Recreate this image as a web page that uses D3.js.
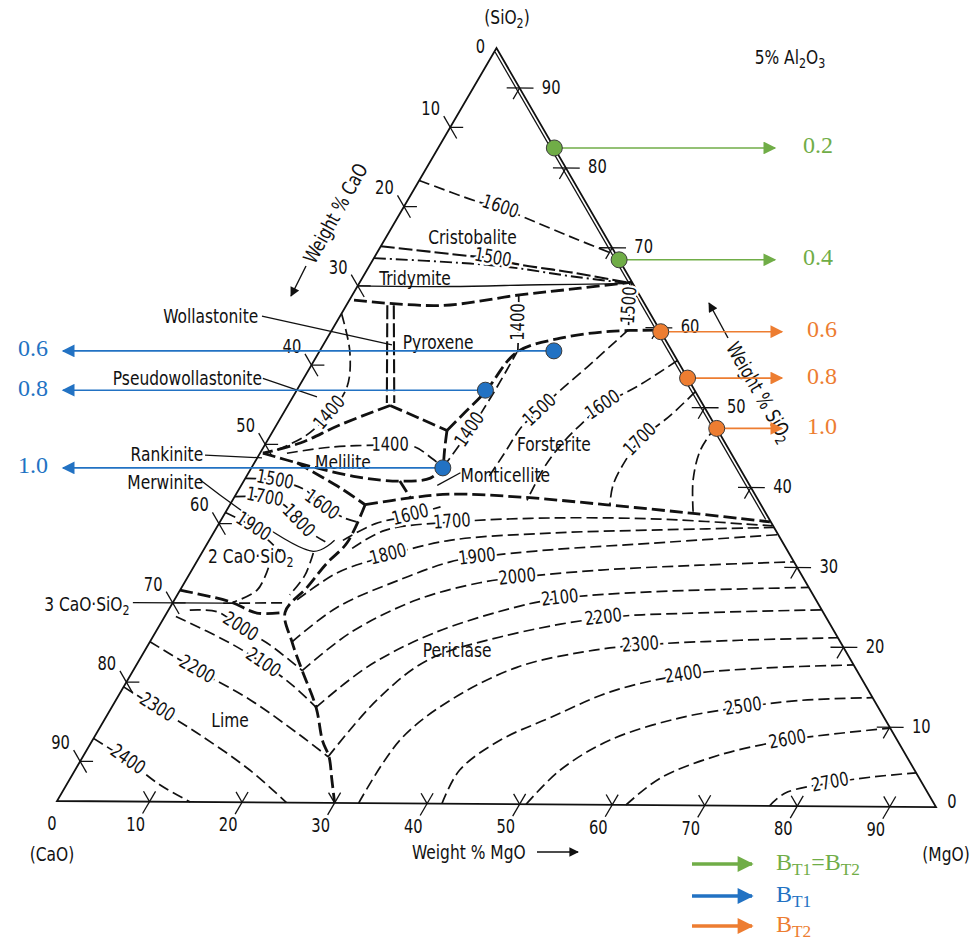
<!DOCTYPE html>
<html>
<head>
<meta charset="utf-8">
<script src="https://cdn.jsdelivr.net/npm/d3@7/dist/d3.min.js"></script>
<style>
  body { margin: 0; background: #fff; }
  svg { display: block; }
</style>
</head>
<body>
<svg id="diagrama" width="976" height="943"></svg>
<script>
// CaO - MgO - SiO2 at 5% Al2O3: every point is [MgO, SiO2] in wt%, CaO = 95 - MgO - SiO2
const total = 95;
const tickValues = [10, 20, 30, 40, 50, 60, 70, 80, 90];

// liquidus isotherms
const iso1600Cristobalite = [[0,78.3],[7.9,75.6],[10.4,75.0],[13.5,73.8],[19.7,71.4],[25.6,69.2]];
const iso1500Cristobalite = [[0,70],[10.6,68.8],[12.8,68.6],[15.6,67.9],[22.0,66.9],[29.1,65.6]];
const iso1500Edge = [[29.3,65.7],[30.5,62.8],[31.9,59.7]];
const iso1400Pyroxene = [[17.9,64.0],[19.6,60.6],[21.4,56.8]];
const iso1400Wollastonite = [[0,61.5],[3.3,56.7],[5.2,52.3],[5.0,49.0],[3.8,46.1],[1.6,44.3]];
const iso1400Melilite = [[2.9,43.9],[7.2,44.7],[13.5,45.0],[16.3,44.8],[18.8,43.4],[20.6,42.3]];
const iso1400Forsterite = [[20.6,42.3],[21.15,47.0],[21.35,52.0],[21.3,56.8]];
const iso1500Forsterite = [[31.9,59.7],[29.8,55.0],[28.0,51.2],[27.45,49.5],[26.55,47.65],[26.3,43.9],[26.1,41.0]];
const iso1600Forsterite = [[39.1,55.9],[36.6,52.8],[33.9,50.2],[32.7,47.7],[31.95,45.5],[31.5,42.6],[31.7,38.2]];
const iso1700Forsterite = [[43,52],[41.8,49.0],[40.1,45.9],[39.8,43.3],[40.0,40.2],[40.9,37.7]];
const iso1800Forsterite = [[47.4,47.6],[47.2,44.7],[48.3,40.9],[50.3,36.9]];
const iso1500Merwinite = [[0,40.7],[3.3,40.5],[7.2,39.3],[9.9,37.4],[13.2,35.8],[14.9,35.3]];
const iso1700Merwinite = [[0,38.4],[3.3,38.3],[6.0,37.3],[8.35,35.4],[10.7,33.8],[12.6,32.8]];
const iso1900Dicalcium = [[0,36.4],[3.9,34.6],[6.3,33.0],[8.4,31.5]];
const iso2000Lime = [[2.3,24.1],[5.4,23.9],[8.8,22.0],[13.1,19.8],[18.2,16.6]];
const iso2100Lime = [[1.2,23.3],[8.7,20.0],[13.5,17.5],[18.0,14.8],[22,12]];
const iso2200Lime = [[0,20.1],[6.8,16.6],[14.4,12.9],[22.0,8.5],[26.4,5.8]];
const iso2300Lime = [[0,14.4],[4.9,11.8],[11.3,8.4],[18.8,4.06],[24.8,0]];
const iso2400Lime = [[0,7.9],[5.0,5.2],[10.1,2.1],[14.4,0]];
const iso1600Periclase = [[14.4,33.0],[16.8,35.1],[20.1,36.2],[22.8,37.3]];
const iso1700Periclase = [[15.9,32.0],[18.3,34.3],[25.0,35.4],[35.3,36.0],[47.2,35.95],[59.7,35.2]];
const iso1800Periclase = [[13.2,25.5],[15.8,28.9],[18.9,30.6],[20.2,31.2],[25.9,33.1],[36.2,34.1],[47.9,34.6],[60,35]];
const iso1900Periclase = [[15.3,20.2],[18.0,24.6],[23.0,28.1],[27.3,30.4],[29.9,31.0],[37.3,32.0],[47.65,32.9],[60.9,34.1]];
const iso2000Periclase = [[18.2,16.6],[21.0,21.4],[26.1,25.6],[31.8,27.8],[35.5,28.5],[44.0,29.5],[54.4,30.2],[64.3,30.7]];
const iso2100Periclase = [[22,12],[24.96,17.1],[29.95,21.4],[37.3,24.8],[41.4,25.9],[50.7,26.8],[67.5,27.5]];
const iso2200Periclase = [[26.4,5.8],[28.1,13.0],[31.0,18.0],[37.4,21.0],[47.3,23.5],[57.4,24.2],[70.3,24.7]];
const iso2300Periclase = [[32.6,0],[33.1,8.0],[36.0,13.0],[41.1,17.2],[47.3,19.2],[53.0,20.1],[63.4,20.8],[73.8,21.2]];
const iso2400Periclase = [[41.6,0],[41.4,4.25],[43.9,8.05],[47.85,10.9],[52.7,14.2],[59.5,16.4],[67.35,17.3],[77.2,17.8]];
const iso2500Periclase = [[50.7,0],[52.2,4.3],[55.7,8.15],[61.85,11.0],[67.96,12.4],[73.7,13.3],[81.3,13.7]];
const iso2600Periclase = [[61.5,0],[63.5,3.4],[68.5,6.4],[74.8,8.3],[80.05,9.2],[85.1,9.9]];
const iso2700Periclase = [[77,0],[77.9,1.65],[82.1,2.94],[86.0,3.7],[90.7,4.3]];
const tricalciumLine = [[5.45,25.0],[11.9,25.1]];
const dicalciumCurve = [[8.1,29.5],[8.3,26.7],[6.4,25.1]];
const dicalciumInner = [[12.0,31.4],[12.5,28.6],[12.1,26.1]];

// phase boundaries
const tridymiteDashDot = [[0,68.5],[10.7,67.9],[15.8,67.4],[22.3,66.4],[29.5,65.5]];
const tridymiteSolid = [[0,65],[10,65],[19.6,65.3],[28.5,65.5]];
const tridymitePyroxene = [[0.5,63.2],[10.1,62.6],[18.0,64.0],[24.1,64.9],[29.3,65.7]];
const wollastonitePyroxeneA = [[4.4,62.6],[10.5,50.3]];
const wollastonitePyroxeneB = [[5.1,62.6],[11.3,50.3]];
const wollastoniteMelilite = [[11.0,50.0],[6.8,47.5],[3.7,45.2],[0.3,43.9]];
const pyroxeneMelilite = [[11.0,50.0],[15.0,48.4],[18.7,46.9]];
const meliliteMonticellite = [[18.7,46.9],[19.6,44.6],[20.6,42.3]];
const pyroxeneForsterite = [[18.7,46.9],[19.5,49.2],[20.4,51.8],[21.3,56.8],[25.1,58.6],[30.0,59.5],[35.3,59.7]];
const meliliteLower = [[0.3,43.9],[4.6,42.7],[11.9,41.0],[16.8,40.5],[19.9,40.9],[20.6,42.3]];
const merwiniteUpper = [[4.6,42.7],[10.8,39.6],[14.55,37.5]];
const monticelliteStep = [[16.8,40.5],[19.0,38.4]];
const limePericlase = [[14.55,37.5],[15.0,32.7],[14.1,30.1],[13.5,27.1],[12.7,23.9],[15.3,20.2],[18.2,16.6],[22,12],[24.8,7.8],[26.5,5.8],[28.2,3],[30,0]];
const forsteritePericlase = [[14.55,37.5],[19.0,38.4],[23.0,38.9],[30.8,38.6],[40.6,37.7],[50.4,36.7],[59.2,35.7]];
const limeDicalcium = [[0,26.6],[6.1,25.2],[9.7,23.8],[12.7,23.9]];

// leader lines of the phase names
const leaderWollastonite = [[-8.4,61.1],[7.4,57.6]];
const leaderPseudo = [[-4.4,53.3],[2.6,51.0]];
const leaderRankinite = [[-5.8,43.6],[0.5,43.3]];
const leaderMerwinite = [[-4.8,40.5],[11.9,31.6],[13.5,33.0]];
const leaderTricalcium = [[-4.3,25],[5.45,25]];
const leaderMonticellite = [[22.8,41.6],[21.1,40.0]];

const phaseNames = ["Cristobalite", "Tridymite", "Pyroxene", "Melilite", "Monticellite", "Forsterite", "Periclase", "Lime", "2 CaO·SiO_2"];
const phaseSpots = [[9.3,71.2],[5.7,66.0],[12.25,57.9],[9.5,42.8],[27.8,41.3],[31.1,45.2],[33.6,19.3],[13.55,10.3],[5.5,30.9]];
const sideNames = ["Wollastonite", "Pseudowollastonite", "Rankinite", "Merwinite", "3 CaO·SiO_2"];
const sideSpots = [[-8.8,61.1],[-4.5,53.3],[-6.0,43.6],[-4.3,40.2],[-4.5,24.7]];

// basicity points
const greenRatios = ["0.2", "0.4"];
const greenPoints = [[12.5,82.5],[26.5,68.5]];
const orangeRatios = ["0.6", "0.8", "1.0"];
const orangePoints = [[35.5,59.5],[41.3,53.7],[47.6,47.4]];
const blueRatios = ["0.6", "0.8", "1.0"];
const bluePoints = [[25.2,57.0],[20.3,52.0],[20.6,42.2]];
const legendNames = ["B_{T1}=B_{T2}", "B_{T1}", "B_{T2}"];

const green = "#70ad47", blue = "#2272c3", orange = "#ed7d31";
const font = "'Liberation Sans Narrow','DejaVu Sans Condensed','Arial Narrow',sans-serif";
const serif = "'Liberation Serif','DejaVu Serif',serif";
const narrow = 0.86; // the drawing lettering is narrower than the available fonts

const svg = d3.select("#diagrama");
const x = d3.scaleLinear().domain([0, total]).range([57, 936]);   // MgO + SiO2/2
const y = d3.scaleLinear().domain([0, total]).range([801, 45]);   // SiO2
const skew = 0.007; // the scan leans a little
const proj = d => {
    const px = x(d[0] + d[1] / 2);
    return [px, y(d[1]) + skew * (px - x(0))];
};
const curve = d3.line().x(d => proj(d)[0]).y(d => proj(d)[1]).curve(d3.curveCatmullRom.alpha(0.5));
const straight = d3.line().x(d => proj(d)[0]).y(d => proj(d)[1]);

// text with _x or _{xy} subscripts
function richText(sel, str, size) {
    const shift = size * 0.3;
    let down = false;
    str.split(/(_\{[^}]*\}|_\w)/).filter(s => s).forEach(p => {
        const sub = p[0] === "_";
        const txt = sub ? (p[1] === "{" ? p.slice(2, -1) : p.slice(1)) : p;
        const ts = sel.append("tspan").text(txt);
        if (sub) {
            ts.attr("font-size", size * 0.72);
            if (!down) ts.attr("dy", shift);
            down = true;
        } else if (down) {
            ts.attr("dy", -shift);
            down = false;
        }
    });
    return sel;
}

// drawing letters, narrowed
function label(parent, px, py, str, opt) {
    const o = Object.assign({ anchor: "middle", rot: 0, size: 20, halo: false }, opt);
    const t = parent.append("text")
        .attr("transform", `translate(${px},${py}) rotate(${o.rot}) scale(${narrow},1)`)
        .attr("text-anchor", o.anchor).attr("dominant-baseline", "middle")
        .attr("font-family", font).attr("font-size", o.size).attr("fill", "#111");
    if (o.halo) {
        t.attr("stroke", "#fff").attr("stroke-width", 5).attr("stroke-linejoin", "round")
            .attr("paint-order", "stroke");
    }
    return richText(t, String(str), o.size);
}

const g = svg.append("g");

// triangle and the doubled SiO2 side
g.append("path")
    .attr("d", straight([[0,0],[total,0],[0,total]]) + "Z")
    .attr("fill", "none").attr("stroke", "#111").attr("stroke-width", 1.8);
g.append("path")
    .attr("d", straight([[0.1,94.5],[58.6,36]]))
    .attr("fill", "none").attr("stroke", "#111").attr("stroke-width", 1.3);

// ticks
const tickSegs = [];
tickValues.forEach(v => {
    tickSegs.push([[v,-1.5],[v,1.3]], [[v,0],[v-1.3,1.3]]);
    tickSegs.push([[-1.4,total-v+1.4],[1.4,total-v-1.4]], [[0,total-v],[1.4,total-v]]);
    tickSegs.push([[total-v-1.4,v],[total-v+1.5,v]], [[total-v,v],[total-v,v-1.4]]);
});
g.selectAll(".tick").data(tickSegs).join("path")
    .attr("class", "tick")
    .attr("d", d => straight(d))
    .attr("stroke", "#111").attr("stroke-width", 1.3).attr("fill", "none");

tickValues.forEach(v => {
    const b = proj([v, -3]), l = proj([-2.2, total - v + 2.2]), r = proj([total - v + 2.4, v]);
    label(g, b[0], b[1], v, { size: 19 });
    label(g, l[0], l[1], v, { size: 19, anchor: "end" });
    label(g, r[0], r[1], v, { size: 19, anchor: "start" });
});
[[[0,total], -16, 0], [[0,0], -5, 24], [[total,0], 16, -5]].forEach(([p, dx, dy]) => {
    label(g, proj(p)[0] + dx, proj(p)[1] + dy, "0", { size: 19 });
});

// lines
const styles = {
    iso: { w: 1.7, dash: "11,5" },
    bold: { w: 2.8, dash: "13,5" },
    mid: { w: 2.1, dash: "14,4" },
    dashdot: { w: 1.9, dash: "12,4,2,4" },
    solid: { w: 1.3, dash: null }
};
const isotherms = [
    { pts: iso1600Cristobalite, labels: [["1600", 2]] },
    { pts: iso1500Cristobalite, labels: [["1500", 2]], style: "mid" },
    { pts: iso1500Edge, labels: [["1500", 1]] },
    { pts: iso1400Pyroxene, labels: [["1400", 1]] },
    { pts: iso1400Wollastonite, labels: [["1400", 3]] },
    { pts: iso1400Melilite, labels: [["1400", 2]] },
    { pts: iso1400Forsterite, labels: [["1400", 1]] },
    { pts: iso1500Forsterite, labels: [["1500", 3]] },
    { pts: iso1600Forsterite, labels: [["1600", 2]] },
    { pts: iso1700Forsterite, labels: [["1700", 2]] },
    { pts: iso1800Forsterite, labels: [] },
    { pts: iso1500Merwinite, labels: [["1500", 1], ["1600", 3]] },
    { pts: iso1700Merwinite, labels: [["1700", 1], ["1800", 3]] },
    { pts: iso1900Dicalcium, labels: [["1900", 1]] },
    { pts: iso2000Lime, labels: [["2000", 2]] },
    { pts: iso2100Lime, labels: [["2100", 2]] },
    { pts: iso2200Lime, labels: [["2200", 1]] },
    { pts: iso2300Lime, labels: [["2300", 1]] },
    { pts: iso2400Lime, labels: [["2400", 1]] },
    { pts: iso1600Periclase, labels: [["1600", 2]] },
    { pts: iso1700Periclase, labels: [["1700", 2]] },
    { pts: iso1800Periclase, labels: [["1800", 3]] },
    { pts: iso1900Periclase, labels: [["1900", 4]] },
    { pts: iso2000Periclase, labels: [["2000", 4]] },
    { pts: iso2100Periclase, labels: [["2100", 4]] },
    { pts: iso2200Periclase, labels: [["2200", 4]] },
    { pts: iso2300Periclase, labels: [["2300", 5]] },
    { pts: iso2400Periclase, labels: [["2400", 5]] },
    { pts: iso2500Periclase, labels: [["2500", 4]] },
    { pts: iso2600Periclase, labels: [["2600", 3]] },
    { pts: iso2700Periclase, labels: [["2700", 2]] },
    { pts: tricalciumLine, labels: [] },
    { pts: dicalciumCurve, labels: [] },
    { pts: dicalciumInner, labels: [] },
    { pts: tridymiteDashDot, labels: [], style: "dashdot" },
    { pts: tridymiteSolid, labels: [], style: "solid" },
    { pts: tridymitePyroxene, labels: [], style: "bold" },
    { pts: wollastonitePyroxeneA, labels: [], style: "mid" },
    { pts: wollastonitePyroxeneB, labels: [], style: "mid" },
    { pts: wollastoniteMelilite, labels: [], style: "bold" },
    { pts: pyroxeneMelilite, labels: [], style: "bold" },
    { pts: meliliteMonticellite, labels: [], style: "bold" },
    { pts: pyroxeneForsterite, labels: [], style: "bold" },
    { pts: meliliteLower, labels: [], style: "bold" },
    { pts: merwiniteUpper, labels: [], style: "bold" },
    { pts: monticelliteStep, labels: [], style: "bold" },
    { pts: limePericlase, labels: [], style: "bold" },
    { pts: forsteritePericlase, labels: [], style: "bold" },
    { pts: limeDicalcium, labels: [], style: "bold" },
    { pts: leaderWollastonite, labels: [], style: "solid" },
    { pts: leaderPseudo, labels: [], style: "solid" },
    { pts: leaderRankinite, labels: [], style: "solid" },
    { pts: leaderMerwinite, labels: [], style: "solid" },
    { pts: leaderTricalcium, labels: [], style: "solid" },
    { pts: leaderMonticellite, labels: [], style: "solid" }
];

g.selectAll(".iso").data(isotherms).join("path")
    .attr("class", "iso")
    .attr("d", d => curve(d.pts))
    .attr("fill", "none")
    .attr("stroke", "#111")
    .attr("stroke-width", d => styles[d.style || "iso"].w)
    .attr("stroke-dasharray", d => styles[d.style || "iso"].dash);

// isotherm labels, turned along their line
isotherms.forEach(d => d.labels.forEach(([t, i]) => {
    const a = proj(d.pts[Math.max(i - 1, 0)]);
    const b = proj(d.pts[Math.min(i + 1, d.pts.length - 1)]);
    let ang = Math.atan2(b[1] - a[1], b[0] - a[0]) * 180 / Math.PI;
    if (ang > 90) ang -= 180;
    if (ang < -90) ang += 180;
    const p = proj(d.pts[i]);
    label(g, p[0], p[1], t, { size: 19, rot: ang, halo: true });
}));

// phase names
phaseNames.forEach((n, i) => {
    const p = proj(phaseSpots[i]);
    label(g, p[0], p[1], n);
});
sideNames.forEach((n, i) => {
    const p = proj(sideSpots[i]);
    label(g, p[0], p[1], n, { anchor: "end" });
});

// axis names
label(svg, 507, 18, "(SiO_2)");
label(svg, 790, 58, "5% Al_2O_3");
label(svg, 52, 855, "(CaO)");
label(svg, 946, 855, "(MgO)");
label(svg, 412, 853, "Weight % MgO", { anchor: "start" });
label(svg, 309, 262, "Weight % CaO", { anchor: "start", rot: -61 });
label(svg, 731, 344, "Weight % SiO_2", { anchor: "start", rot: 60 });

const defs = svg.append("defs");
const arrowHead = (id, color, size) => defs.append("marker")
    .attr("id", id).attr("viewBox", "0 0 10 10").attr("refX", 9).attr("refY", 5)
    .attr("markerUnits", "userSpaceOnUse")
    .attr("markerWidth", size).attr("markerHeight", size * 0.8)
    .attr("orient", "auto")
    .append("path").attr("d", "M0,0L10,5L0,10Z").attr("fill", color);
arrowHead("aBlack", "#111", 12);
arrowHead("aGreen", green, 16);
arrowHead("aBlue", blue, 16);
arrowHead("aOrange", orange, 16);
arrowHead("aGreenL", green, 20);
arrowHead("aBlueL", blue, 20);
arrowHead("aOrangeL", orange, 20);

const axisArrows = [[537, 852, 578, 852], [306, 266, 291, 296], [728, 338, 709, 303]];
svg.selectAll(".axArrow").data(axisArrows).join("line")
    .attr("class", "axArrow")
    .attr("x1", d => d[0]).attr("y1", d => d[1]).attr("x2", d => d[2]).attr("y2", d => d[3])
    .attr("stroke", "#111").attr("stroke-width", 1.4).attr("marker-end", "url(#aBlack)");

// basicity points with their arrows
function pointGroup(points, ratios, color, marker, tipX, labelX) {
    const grp = svg.append("g");
    points.forEach((p, i) => {
        const [px, py] = proj(p);
        grp.append("line")
            .attr("x1", px).attr("y1", py).attr("x2", tipX).attr("y2", py)
            .attr("stroke", color).attr("stroke-width", 1.6)
            .attr("marker-end", `url(#${marker})`);
        grp.append("circle")
            .attr("cx", px).attr("cy", py).attr("r", 8)
            .attr("fill", color).attr("stroke", "#3a3a3a").attr("stroke-width", 1);
        grp.append("text")
            .attr("x", labelX).attr("y", py)
            .attr("text-anchor", "middle").attr("dominant-baseline", "middle")
            .attr("font-family", serif).attr("font-size", 24).attr("fill", color)
            .text(ratios[i]);
    });
}
pointGroup(greenPoints, greenRatios, green, "aGreen", 775, 818);
pointGroup(orangePoints, orangeRatios, orange, "aOrange", 782, 822);
pointGroup(bluePoints, blueRatios, blue, "aBlue", 63, 33);

// legend
const legendColors = [green, blue, orange];
const legendMarkers = ["aGreenL", "aBlueL", "aOrangeL"];
const legendY = [864, 896, 926];
legendNames.forEach((n, i) => {
    svg.append("line")
        .attr("x1", 692).attr("y1", legendY[i]).attr("x2", 752).attr("y2", legendY[i])
        .attr("stroke", legendColors[i]).attr("stroke-width", 3.5)
        .attr("marker-end", `url(#${legendMarkers[i]})`);
    richText(svg.append("text")
        .attr("x", 776).attr("y", legendY[i])
        .attr("dominant-baseline", "middle")
        .attr("font-family", serif).attr("font-size", 24).attr("fill", legendColors[i]), n, 24);
});
</script>
</body>
</html>
